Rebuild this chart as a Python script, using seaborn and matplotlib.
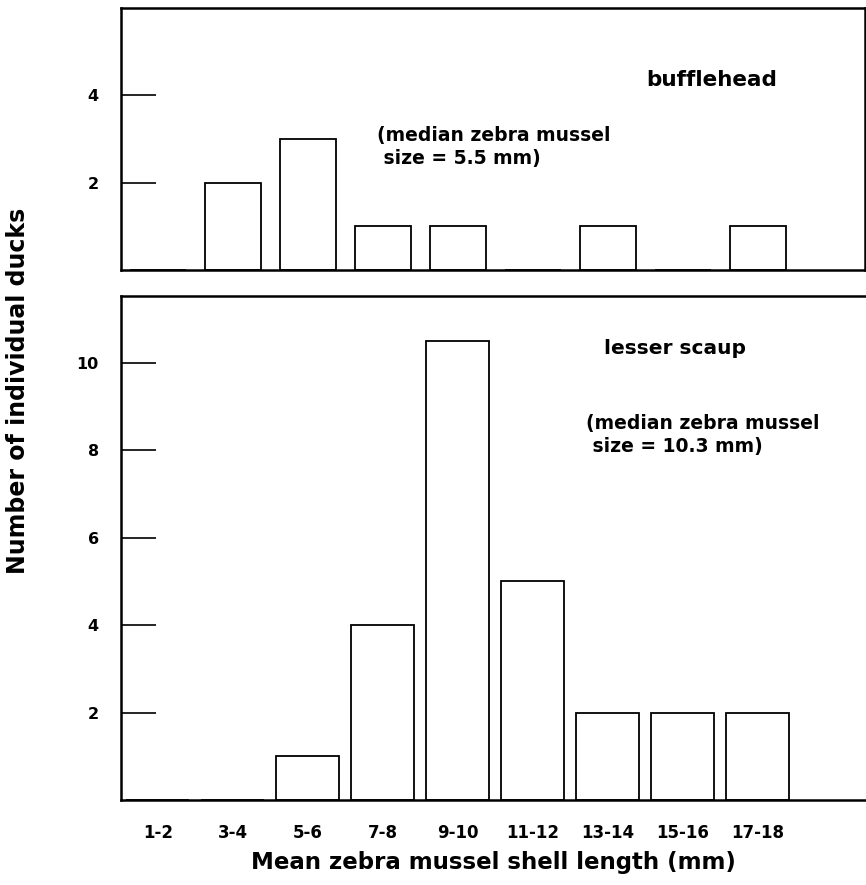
import matplotlib
matplotlib.use("Agg")
import matplotlib.pyplot as plt
import seaborn as sns
import pandas as pd

categories = ["1-2", "3-4", "5-6", "7-8", "9-10", "11-12", "13-14", "15-16", "17-18"]
bufflehead = [0, 2, 3, 1, 1, 0, 1, 0, 1]
scaup = [0, 0, 1, 4, 10.5, 5, 2, 2, 2]
top_yticks = [2, 4]
bottom_yticks = [2, 4, 6, 8, 10]

sns.set_style("ticks")
plt.rcParams["font.family"] = ["DejaVu Sans"]
plt.rcParams["font.weight"] = "bold"
for k in ("text.color", "axes.labelcolor", "xtick.color", "ytick.color",
          "axes.edgecolor"):
    plt.rcParams[k] = "black"

df_b = pd.DataFrame({"size": categories, "n": bufflehead})
df_s = pd.DataFrame({"size": categories, "n": scaup})

fig = plt.figure(figsize=(8.66, 8.85), dpi=100)
W = 744 / 866
ax1 = fig.add_axes([121 / 866, 1 - 270 / 885, W, 262 / 885])
ax2 = fig.add_axes([121 / 866, 1 - 800 / 885, W, 504 / 885])

sns.barplot(data=df_b, x="size", y="n", order=categories, ax=ax1,
            color="white", edgecolor="black", linewidth=1.3, width=0.75,
            errorbar=None)
sns.barplot(data=df_s, x="size", y="n", order=categories, ax=ax2,
            color="white", edgecolor="black", linewidth=1.3, width=0.84,
            errorbar=None)

for ax in (ax1, ax2):
    ax.set_xlim(-0.493, 9.43)
    for s in ax.spines.values():
        s.set_linewidth(1.8)
        s.set_color("black")
    ax.tick_params(axis="y", direction="in", length=25, width=1.2,
                   pad=16, labelsize=11.5, colors="black")
    ax.set_ylabel("")
    ax.set_xlabel("")

ax1.set_ylim(0, 6.0)
ax1.set_yticks(top_yticks)
ax1.set_yticklabels([str(t) for t in top_yticks], fontweight="bold")
ax1.tick_params(axis="x", length=0, labelbottom=False)

ax2.set_ylim(0, 11.53)
ax2.set_yticks(bottom_yticks)
ax2.set_yticklabels([str(t) for t in bottom_yticks], fontweight="bold")
ax2.spines["right"].set_visible(False)
ax2.tick_params(axis="x", length=0, pad=17, labelsize=12, colors="black")
for lab in ax2.get_xticklabels():
    lab.set_fontweight("bold")
ax2.set_xlabel("Mean zebra mussel shell length (mm)", fontsize=16.5,
               fontweight="bold", labelpad=7, color="black")

fig.text(18 / 866, 1 - 391 / 885, "Number of individual ducks", rotation=90,
         ha="center", va="center", fontsize=17, fontweight="bold",
         color="black")

ax1.text(7.39, 4.36, "bufflehead", ha="center", va="center",
         fontsize=15.5, fontweight="bold", color="black")
ax1.text(2.92, 2.82, "(median zebra mussel\n size = 5.5 mm)", ha="left",
         va="center", fontsize=13.5, fontweight="bold", linespacing=1.25,
         color="black")

ax2.text(6.89, 10.34, "lesser scaup", ha="center", va="center",
         fontsize=14.5, fontweight="bold", color="black")
ax2.text(5.71, 8.35, "(median zebra mussel\n size = 10.3 mm)", ha="left",
         va="center", fontsize=13.5, fontweight="bold", linespacing=1.25,
         color="black")

fig.savefig("out.png", dpi=100)
